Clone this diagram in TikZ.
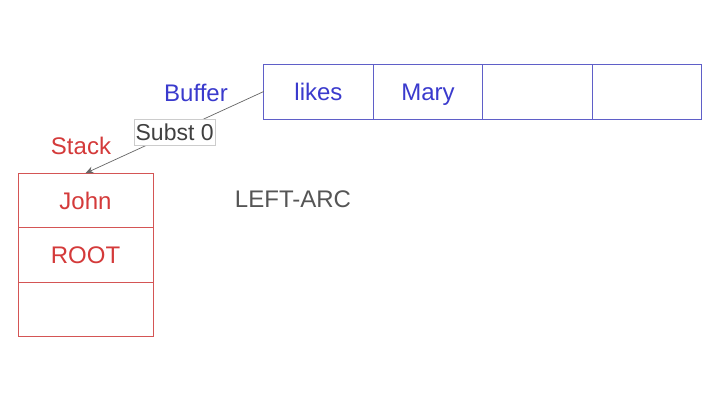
\documentclass[tikz,border=0pt]{standalone}
\usepackage{fontspec}
\setmainfont{Liberation Sans}
\usetikzlibrary{positioning,arrows.meta}

\definecolor{buftext}{RGB}{58,58,205}
\definecolor{bufline}{RGB}{95,95,200}
\definecolor{stktext}{RGB}{212,58,58}
\definecolor{stkline}{RGB}{212,85,85}
\definecolor{optext}{RGB}{85,85,85}

\tikzset{
  cellfont/.style={font=\fontsize{24}{28}\selectfont, text height=19pt, text depth=2pt},
  bufcell/.style={draw=bufline, line width=0.9pt, minimum width=109.5pt, minimum height=55pt,
    inner sep=0pt, outer sep=0pt, text=buftext, cellfont},
  stkcell/.style={draw=stkline, line width=0.9pt, minimum width=135pt, minimum height=54.5pt,
    inner sep=0pt, outer sep=0pt, text=stktext, cellfont},
  lbl/.style={font=\fontsize{24}{28}\selectfont, inner sep=0pt},
  subst/.style={draw=black!20, fill=white, text=black!75, inner xsep=1.5pt, inner ysep=4.5pt,
    font=\fontsize{23}{27}\selectfont},
}

\begin{document}
\begin{tikzpicture}[x=1pt, y=-1pt]
\useasboundingbox[fill=white] (0,0) rectangle (720,405);

% buffer
\node[bufcell] (b1) at (318.5,91.5) {likes};
\node[bufcell, right=0pt of b1] (b2) {Mary};
\node[bufcell, right=0pt of b2] (b3) {};
\node[bufcell, right=0pt of b3] (b4) {};
\node[lbl, text=buftext] (buflbl) at (196,93) {Buffer};

% stack
\node[stkcell] (s1) at (85.5,200.5) {John};
\node[stkcell, below=0pt of s1] (s2) {ROOT};
\node[stkcell, below=0pt of s2] (s3) {};
\node[lbl, text=stktext] (stklbl) at (81,146) {Stack};

% transition
\node[lbl, text=optext] (op) at (293,199) {LEFT-ARC};

\draw[black!60, line width=0.7pt, -{Stealth[length=8pt, width=7pt]}]
  (b1.west) -- node[subst] (sub) {Subst 0} (s1.north);
\end{tikzpicture}
\end{document}
